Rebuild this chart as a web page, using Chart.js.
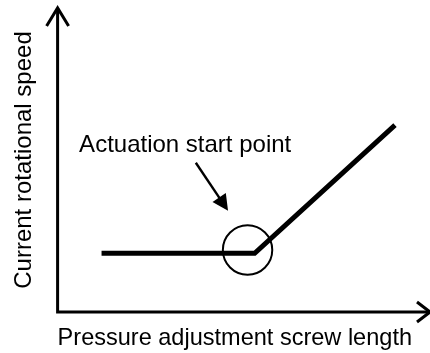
<!DOCTYPE html>
<html>
<head>
<meta charset="utf-8">
<title>Current rotational speed vs pressure adjustment screw length</title>
<script src="https://cdn.jsdelivr.net/npm/chart.js@4/dist/chart.umd.min.js"></script>
<style>
  html, body { margin: 0; padding: 0; background: #ffffff; }
  canvas { display: block; }
</style>
</head>
<body>
<canvas id="chart" width="430" height="353"></canvas>
<script>
// Characteristic curve (relative units, 0..100 on both axes)
const screwLength = [12.4, 55.6, 95.2];
const rotationalSpeed = [19.3, 19.3, 61.5];

// Marked actuation start point (circle)
const startPointX = [53.6];
const startPointY = [20.4];

// Callout label and its pointer (from -> to), in the same units
const calloutText = 'Actuation start point';
const calloutLabelAt = [36.0, 52.7];
const calloutArrowFrom = [39.0, 49.1];
const calloutArrowTo = [48.1, 33.3];

const axisTitleX = 'Pressure adjustment screw length';
const axisTitleY = 'Current rotational speed';

const FONT_FAMILY = "'Liberation Sans', Arial, Helvetica, sans-serif";

// Draws both axes with open arrowheads plus the callout with its pointer.
const sketchAxesPlugin = {
  id: 'sketchAxes',
  afterDraw(chart) {
    const { ctx, chartArea: a, scales } = chart;
    const xs = scales.x, ys = scales.y;
    ctx.save();
    ctx.strokeStyle = '#000';
    ctx.fillStyle = '#000';
    ctx.lineCap = 'butt';
    ctx.lineJoin = 'miter';

    // Axes
    ctx.lineWidth = 3;
    const xEnd = chart.width;
    ctx.beginPath();
    ctx.moveTo(a.left, a.top);
    ctx.lineTo(a.left, a.bottom);
    ctx.lineTo(xEnd, a.bottom);
    ctx.stroke();

    // Y arrowhead
    ctx.beginPath();
    ctx.moveTo(a.left - 11, a.top + 18);
    ctx.lineTo(a.left, a.top);
    ctx.lineTo(a.left + 11, a.top + 18);
    ctx.stroke();

    // X arrowhead
    ctx.beginPath();
    ctx.moveTo(xEnd - 13, a.bottom - 10);
    ctx.lineTo(xEnd, a.bottom);
    ctx.lineTo(xEnd - 13, a.bottom + 10);
    ctx.stroke();

    // Callout label
    ctx.font = '24px ' + FONT_FAMILY;
    ctx.textAlign = 'center';
    ctx.textBaseline = 'alphabetic';
    ctx.fillText(calloutText,
      xs.getPixelForValue(calloutLabelAt[0]),
      ys.getPixelForValue(calloutLabelAt[1]));

    // Callout pointer
    const x0 = xs.getPixelForValue(calloutArrowFrom[0]);
    const y0 = ys.getPixelForValue(calloutArrowFrom[1]);
    const x1 = xs.getPixelForValue(calloutArrowTo[0]);
    const y1 = ys.getPixelForValue(calloutArrowTo[1]);
    const len = Math.hypot(x1 - x0, y1 - y0);
    const ux = (x1 - x0) / len, uy = (y1 - y0) / len;
    const headLen = 16, headHalf = 8;
    const bx = x1 - ux * headLen, by = y1 - uy * headLen;
    ctx.lineWidth = 2.4;
    ctx.beginPath();
    ctx.moveTo(x0, y0);
    ctx.lineTo(bx + ux * 2, by + uy * 2);
    ctx.stroke();
    ctx.beginPath();
    ctx.moveTo(x1, y1);
    ctx.lineTo(bx - uy * headHalf, by + ux * headHalf);
    ctx.lineTo(bx + uy * headHalf, by - ux * headHalf);
    ctx.closePath();
    ctx.fill();

    ctx.restore();
  }
};

new Chart(document.getElementById('chart'), {
  type: 'line',
  data: {
    datasets: [
      {
        label: 'Characteristic',
        data: screwLength.map((x, i) => ({ x, y: rotationalSpeed[i] })),
        borderColor: '#000',
        borderWidth: 5,
        borderCapStyle: 'butt',
        borderJoinStyle: 'miter',
        pointRadius: 0,
        tension: 0,
        fill: false
      },
      {
        type: 'scatter',
        label: 'Actuation start point',
        data: startPointX.map((x, i) => ({ x, y: startPointY[i] })),
        pointStyle: 'circle',
        pointRadius: 24.7,
        pointHoverRadius: 24.7,
        borderColor: '#000',
        borderWidth: 2,
        backgroundColor: 'rgba(0,0,0,0)'
      }
    ]
  },
  options: {
    responsive: false,
    animation: false,
    events: [],
    layout: {
      autoPadding: false,
      padding: { left: 0, right: 18, top: 8, bottom: 0 }
    },
    plugins: {
      legend: { display: false },
      tooltip: { enabled: false },
      title: { display: false }
    },
    scales: {
      x: {
        type: 'linear',
        min: 0,
        max: 100,
        grid: { display: false, drawTicks: false },
        border: { display: false },
        ticks: { display: false },
        title: {
          display: true,
          text: axisTitleX,
          color: '#000',
          font: { family: FONT_FAMILY, size: 24, lineHeight: 1.2 },
          padding: { top: 12.2, bottom: 0 }
        }
      },
      y: {
        type: 'linear',
        min: 0,
        max: 100,
        grid: { display: false, drawTicks: false },
        border: { display: false },
        ticks: { display: false },
        title: {
          display: true,
          text: axisTitleY,
          color: '#000',
          font: { family: FONT_FAMILY, size: 24, lineHeight: 1.2 },
          padding: { top: 9.6, bottom: 19.2 }
        }
      }
    }
  },
  plugins: [sketchAxesPlugin]
});
</script>
</body>
</html>
